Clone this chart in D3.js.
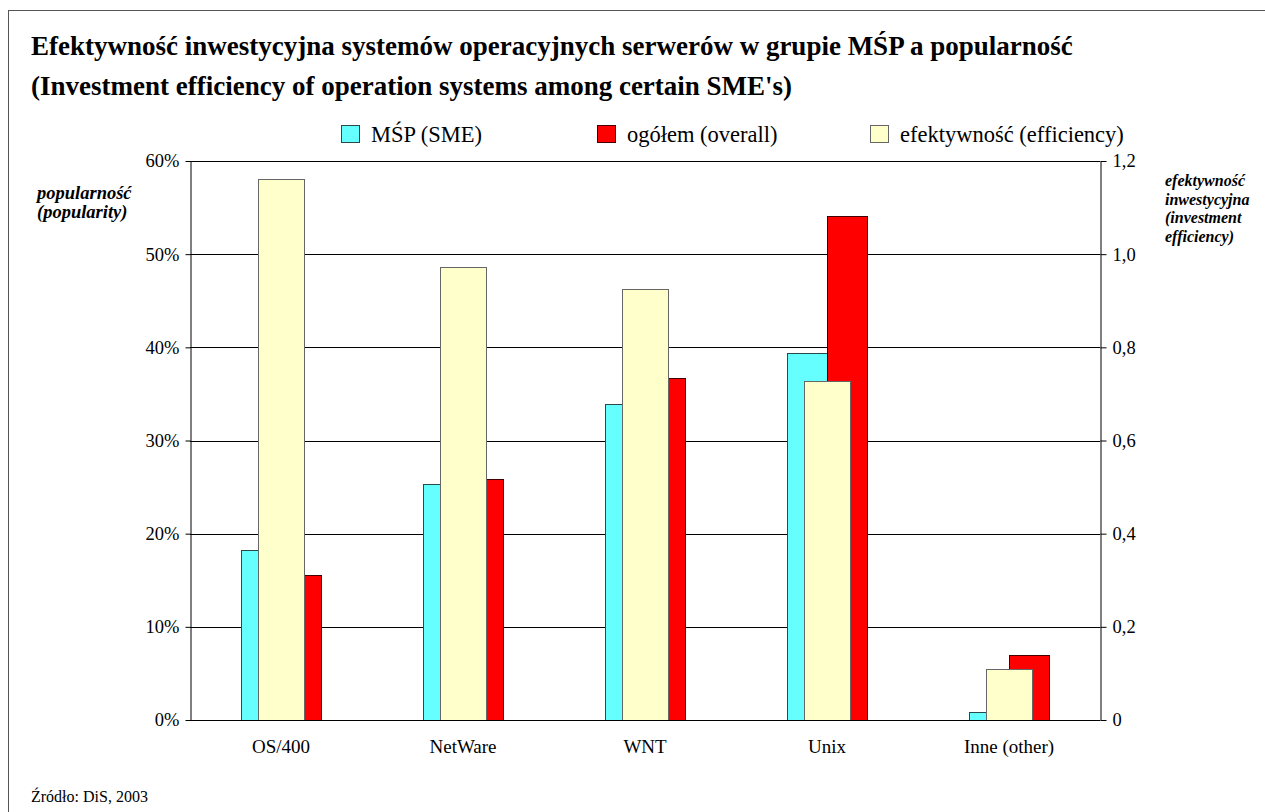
<!DOCTYPE html>
<html><head><meta charset="utf-8">
<script src="https://cdnjs.cloudflare.com/ajax/libs/d3/7.8.5/d3.min.js"></script>
<style>body{margin:0;background:#fff}svg{display:block;font-family:"Liberation Serif","Times New Roman",serif}</style>
</head><body><svg id="c" width="1265" height="812"></svg>
<script>
const categories = ["OS/400","NetWare","WNT","Unix","Inne (other)"];
const smeValues = [0.182, 0.253, 0.339, 0.394, 0.009];
const overallValues = [0.156, 0.259, 0.367, 0.541, 0.070];
const efficiencyValues = [1.162, 0.973, 0.926, 0.728, 0.110];
const leftTicks = [0,0.1,0.2,0.3,0.4,0.5,0.6];
const rightTicks = [0,0.2,0.4,0.6,0.8,1.0,1.2];
const seriesNames = ["MŚP (SME)","ogółem (overall)","efektywność (efficiency)"];
const titleLines = ["Efektywność inwestycyjna systemów operacyjnych serwerów w grupie MŚP a popularność","(Investment efficiency of operation systems among certain SME's)"];
const leftTitle = ["popularność","(popularity)"];
const rightTitle = ["efektywność","inwestycyjna","(investment","efficiency)"];
const source = "Źródło: DiS, 2003";

const colors = {sme:"#66FFFF", overall:"#FF0000", eff:"#FFFFCC"};
const strokes = {sme:"#2a4a4a", overall:"#400", eff:"#666"};
const FF = "Liberation Serif";
const svg = d3.select("#c");
const L=190, R=1100, T=161, B=720;

svg.append("rect").attr("x",8.5).attr("y",10.5).attr("width",1300).attr("height",900)
  .attr("fill","none").attr("stroke","#555").attr("stroke-width",1);

titleLines.forEach((t,i)=>svg.append("text").attr("x",31).attr("y",55+i*40)
  .attr("font-family",FF).attr("font-size",27).attr("font-weight","bold").attr("fill","#000").text(t));

const x = d3.scaleBand().domain(categories).range([L,R]).padding(0);
const yL = d3.scaleLinear().domain([0,0.6]).range([B,T]);
const yR = d3.scaleLinear().domain([0,1.2]).range([B,T]);

// gridlines
svg.append("g").selectAll("line").data(leftTicks.slice(1)).join("line")
  .attr("x1",L).attr("x2",R).attr("y1",d=>Math.round(yL(d))+0.5).attr("y2",d=>Math.round(yL(d))+0.5)
  .attr("stroke","#000").attr("stroke-width",1);

const bw = x.bandwidth();
const pw = Math.round(bw*0.22), ew = Math.round(bw*0.253);
const cx = d => x(d)+bw/2;

svg.append("g").selectAll("rect").data(categories).join("rect")
  .attr("x",d=>Math.round(cx(d))-pw+0.5).attr("width",pw)
  .attr("y",(d,i)=>Math.round(yL(smeValues[i]))+0.5).attr("height",(d,i)=>B-Math.round(yL(smeValues[i])))
  .attr("fill",colors.sme).attr("stroke",strokes.sme);
svg.append("g").selectAll("rect").data(categories).join("rect")
  .attr("x",d=>Math.round(cx(d))+0.5).attr("width",pw)
  .attr("y",(d,i)=>Math.round(yL(overallValues[i]))+0.5).attr("height",(d,i)=>B-Math.round(yL(overallValues[i])))
  .attr("fill",colors.overall).attr("stroke",strokes.overall);
svg.append("g").selectAll("rect").data(categories).join("rect")
  .attr("x",d=>Math.round(cx(d)-ew/2)+0.5).attr("width",ew)
  .attr("y",(d,i)=>Math.round(yR(efficiencyValues[i]))+0.5).attr("height",(d,i)=>B-Math.round(yR(efficiencyValues[i])))
  .attr("fill",colors.eff).attr("stroke",strokes.eff);

// axes
const fmtP = d=>Math.round(d*100)+"%";
const fmtR = d=>d===0?"0":d3.format(".1f")(d).replace(".",",");
const gl = svg.append("g").attr("transform",`translate(${L+0.5},0)`)
  .call(d3.axisLeft(yL).tickValues(leftTicks).tickFormat(fmtP).tickSize(5).tickPadding(6).tickSizeOuter(0));
const gr = svg.append("g").attr("transform",`translate(${R+0.5},0)`)
  .call(d3.axisRight(yR).tickValues(rightTicks).tickFormat(fmtR).tickSize(6).tickPadding(6).tickSizeOuter(0));
const gb = svg.append("g").attr("transform",`translate(0,${B+0.5})`)
  .call(d3.axisBottom(x).tickSize(0).tickPadding(19).tickSizeOuter(0));
[gl,gr,gb].forEach(g=>{
  g.attr("font-family",FF).attr("font-size",18.5);
  g.selectAll("path,line").attr("stroke","#000").attr("stroke-width",1);
  g.selectAll("text").attr("fill","#000");
});
gb.attr("font-size",19);
gb.select(".domain").attr("d",`M${L},0H${R}`);

// axis titles
leftTitle.forEach((t,i)=>svg.append("text").attr("x",37).attr("y",199+i*19)
  .attr("font-family",FF).attr("font-size",18.5).attr("font-weight","bold").attr("font-style","italic").text(t));
rightTitle.forEach((t,i)=>svg.append("text").attr("x",1165).attr("y",186+i*18.5)
  .attr("font-family",FF).attr("font-size",16).attr("font-weight","bold").attr("font-style","italic").text(t));

// legend
const legX = [341,597,870];
const legCol = [colors.sme,colors.overall,colors.eff];
const legStroke = [strokes.sme,strokes.overall,strokes.eff];
seriesNames.forEach((n,i)=>{
  svg.append("rect").attr("x",legX[i]+0.5).attr("y",125.5).attr("width",18).attr("height",17)
    .attr("fill",legCol[i]).attr("stroke",legStroke[i]);
  svg.append("text").attr("x",legX[i]+30).attr("y",142).attr("font-family",FF).attr("font-size",22.5).text(n);
});

svg.append("text").attr("x",31).attr("y",802).attr("font-family",FF).attr("font-size",16).text(source);
</script></body></html>
